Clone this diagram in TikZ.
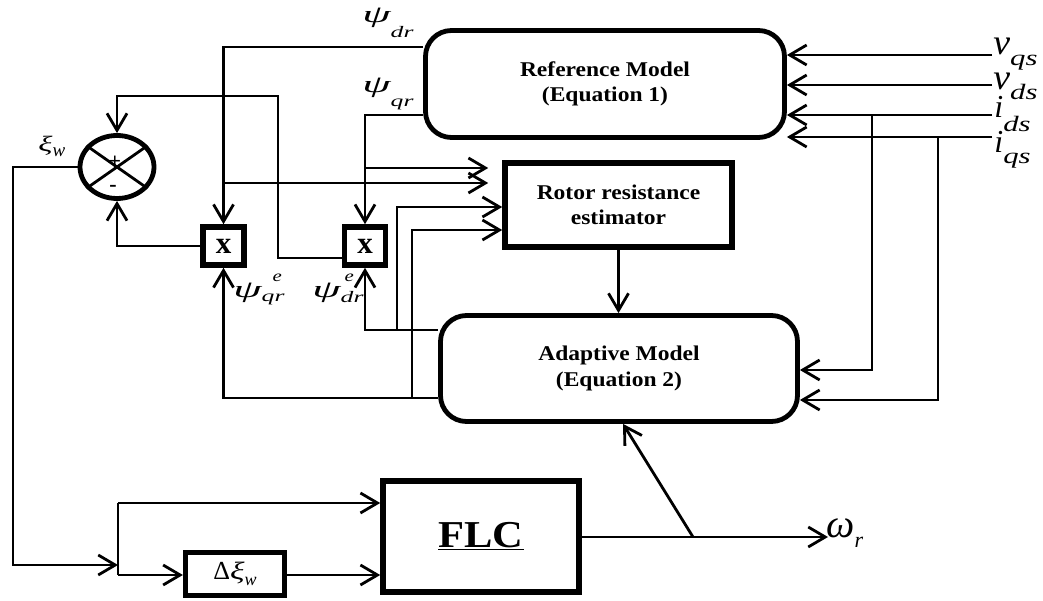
\documentclass[tikz,border=0pt]{standalone}
\usepackage{fontspec}
\usepackage{graphicx}
\setmainfont{Liberation Serif}
\newfontfamily\bxfont[FakeStretch=1.12]{Liberation Serif}
\usetikzlibrary{arrows.meta,shapes.geometric}
% italic glyph at a given size, widened horizontally
\newcommand\gl[3]{\scalebox{#2}[1]{\fontsize{#1}{#1}\selectfont\itshape #3}}

\begin{document}
\begin{tikzpicture}[x=1pt,y=-1pt,line width=2.8pt,
  >={Straight Barb[length=17pt,width=20pt]},
  blk/.style={draw,line width=5.6pt,inner sep=0pt,align=center,
    font=\bxfont\bfseries\fontsize{21}{25.5}\selectfont},
  rblk/.style={blk,rounded corners=26pt,line width=4.8pt},
  mul/.style={draw,line width=5.6pt,minimum width=41pt,minimum height=38pt,
    inner sep=0pt,font=\bfseries\fontsize{31}{31}\selectfont},
  lbl/.style={inner sep=0pt,anchor=base west},
  gap/.style={shorten >=14pt}]

\fill[white] (0,0) rectangle (1043,601);
\useasboundingbox (0,0) rectangle (1043,601);

% blocks
\node[rblk,minimum width=359pt,minimum height=107pt] (ref) at (605,84)
  {Reference Model\\(Equation 1)};
\node[blk,minimum width=227pt,minimum height=84pt] (rre) at (618.5,205)
  {Rotor resistance\\estimator};
\node[rblk,minimum width=357pt,minimum height=106pt] (adm) at (619,368.5)
  {Adaptive Model\\(Equation 2)};
\node[blk,minimum width=196pt,minimum height=111pt,
  font=\bxfont\bfseries\fontsize{38}{40}\selectfont] (flc) at (481,536.5)
  {\underline{FLC}};
\node[blk,line width=5.2pt,minimum width=99pt,minimum height=43pt,
  font=\fontsize{26}{26}\selectfont] (dxi) at (235,574)
  {Δ\gl{25}{1.35}{ξ}\raisebox{-6pt}{\gl{18}{1}{w}}};
\node[mul] (ma) at (223.5,246) {x};
\node[mul] (mb) at (365,246) {x};

% summing junction
\node[draw,ellipse,line width=4.8pt,minimum width=74pt,minimum height=63pt,
  inner sep=0pt] (sum) at (117,167) {};
\draw (sum.145) -- (sum.-35);
\draw (sum.35) -- (sum.215);
\node[inner sep=0pt,font=\bfseries\fontsize{22}{22}\selectfont] (plus) at (115,162) {+};
\node[inner sep=0pt,font=\bfseries\fontsize{22}{22}\selectfont] (minus) at (113,188) {-};

% turning points and junctions
\coordinate (tq) at (278,96);
\coordinate (jd) at (397,330);
\coordinate (jq) at (412,398);
\coordinate (lf) at (13,565);
\coordinate (sp) at (118,565);
\coordinate (br) at (693,537);
\coordinate (wr) at (828,537);
\coordinate (tapd) at (872,115);
\coordinate (tapq) at (938,137);
\coordinate (vqsE) at (992,55);
\coordinate (vdsE) at (992,85);
\coordinate (idsE) at (992,115);
\coordinate (iqsE) at (992,137);

% reference fluxes
\draw[->] (ref.west |- 0,47) -| (ma.north);
\draw[->] (ref.west |- 0,115) -| (mb.north);
\draw[->,gap] (ma.north |- 0,183) -- (rre.west |- 0,183);
\draw[->,gap] (mb.north |- 0,168) -- (rre.west |- 0,168);

% estimated fluxes
\draw[->] (adm.west |- jd) -| (mb.south);
\draw[->] (jd) |- (rre.west |- 0,207);
\draw[->] (adm.west |- jq) -| (ma.south);
\draw[->] (jq) |- (rre.west |- 0,230);

% products into the summing junction
\draw[->] (mb.west |- 0,258) -| (tq) -| (sum.north);
\draw[->] (ma.west) -| (sum.south);

% error to the fuzzy controller
\draw[->] (sum.west) -| (lf) -- (sp);
\draw (sp |- 0,503) -- (sp |- 0,575);
\draw[->] (sp |- 0,503) -- (flc.west |- 0,503);
\draw[->] (sp |- 0,575) -- (dxi.west |- 0,575);
\draw[->] (dxi.east |- 0,575) -- (flc.west |- 0,575);

% estimator to adaptive model, speed output
\draw[->] (rre.south) -- (rre.south |- adm.north);
\draw[->] (flc.east |- br) -- (wr);
\draw[->] (br) -- (adm.south -| 623,0);

% stator inputs
\draw[->] (vqsE) -- (ref.east |- vqsE);
\draw[->] (vdsE) -- (ref.east |- vdsE);
\draw[->] (idsE) -- (ref.east |- idsE);
\draw[->] (iqsE) -- (ref.east |- iqsE);
\draw[->] (tapd) |- (adm.east |- 0,370);
\draw[->] (tapq) |- (adm.east |- 0,400);

% signal labels
\node[lbl] (Lvqs) at (992,55) {\gl{36}{1.05}{v}\raisebox{-11pt}{\gl{22}{1.4}{qs}}};
\node[lbl] (Lvds) at (992,90) {\gl{36}{1.05}{v}\raisebox{-10pt}{\gl{22}{1.4}{ds}}};
\node[lbl] (Lids) at (993,118) {\gl{32}{1}{i}\raisebox{-14pt}{\gl{22}{1.4}{ds}}};
\node[lbl] (Liqs) at (993,153) {\gl{32}{1}{i}\raisebox{-11pt}{\gl{22}{1.4}{qs}}};
\node[lbl] (Lpdr) at (361,23) {\gl{24}{1.9}{ψ}\raisebox{-15pt}{\gl{16}{1.6}{dr}}};
\node[lbl] (Lpqr) at (361,93) {\gl{24}{1.9}{ψ}\raisebox{-14pt}{\gl{16}{1.6}{qr}}};
\node[lbl] (Lpeqr) at (232,298) {\gl{24}{1.9}{ψ}\rlap{\hspace{11pt}\raisebox{16pt}{\gl{16}{1.3}{e}}}\raisebox{-4pt}{\gl{16}{1.6}{qr}}};
\node[lbl] (Lpedr) at (311,298) {\gl{24}{1.9}{ψ}\rlap{\hspace{4pt}\raisebox{16pt}{\gl{16}{1.3}{e}}}\raisebox{-5pt}{\gl{16}{1.6}{dr}}};
\node[lbl] (Lxi) at (37,152) {\gl{22}{1.5}{ξ}\raisebox{-5pt}{\gl{19}{1}{w}}};
\node[lbl] (Lwr) at (825,537) {\gl{40}{1}{ω}\raisebox{-10pt}{\gl{22}{1}{r}}};
\end{tikzpicture}
\end{document}
